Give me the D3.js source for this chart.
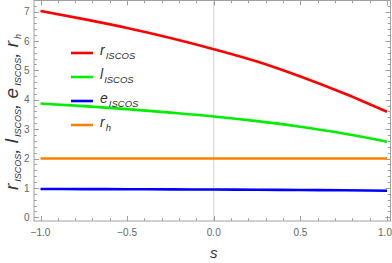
<!DOCTYPE html>
<html><head><meta charset="utf-8">
<script src="https://cdn.jsdelivr.net/npm/d3@7"></script>
<style>body{margin:0;background:#fff}svg{display:block}</style>
</head><body>
<svg id="c" width="392" height="263"></svg>
<script>
const sVals = [-1, -0.75, -0.5, -0.25, 0, 0.25, 0.5, 0.75, 1];
const rISCO = [7.02, 6.74, 6.44, 6.10, 5.72, 5.30, 4.79, 4.22, 3.59];
const lISCO = [3.87, 3.78, 3.68, 3.56, 3.43, 3.27, 3.08, 2.85, 2.57];
const eISCO = [0.962, 0.960, 0.956, 0.951, 0.945, 0.938, 0.930, 0.919, 0.905];
const rH = [2, 2, 2, 2, 2, 2, 2, 2, 2];
const xTicks = [-1, -0.5, 0, 0.5, 1];
const xTickLabels = ["\u22121.0", "\u22120.5", "0.0", "0.5", "1.0"];
const yTicks = [0, 1, 2, 3, 4, 5, 6, 7];
const seriesNames = ["r", "l", "e", "r"];
const seriesSubs = ["ISCOS", "ISCOS", "ISCOS", "h"];
const seriesColors = ["#ff0000", "#00ee00", "#0000ff", "#ff8000"];

const svg = d3.select("#c");
const L = 34, R = 390.5, T = 0.5, B = 221;
const x = d3.scaleLinear().domain([-1, 1]).range([40.5, 387]);
const y = d3.scaleLinear().domain([0, 7]).range([217.3, 11.5]);
const frameCol = "#a0a0a0";

// zero gridline
svg.append("line").attr("x1", x(0)).attr("x2", x(0)).attr("y1", T).attr("y2", B)
  .attr("stroke", "#d0d0d0").attr("stroke-width", 1);

// ticks
const g = svg.append("g").attr("stroke", frameCol).attr("stroke-width", 1);
const xMinor = d3.range(-10, 11).map(i => i / 10);
xMinor.forEach(v => {
  const major = xTicks.some(t => Math.abs(t - v) < 1e-9);
  const len = major ? 5 : 2.8;
  const px = Math.round(x(v)) + 0.5;
  g.append("line").attr("x1", px).attr("x2", px).attr("y1", B).attr("y2", B - len);
  g.append("line").attr("x1", px).attr("x2", px).attr("y1", T).attr("y2", T + len);
});
const yMinor = d3.range(0, 37).map(i => i / 5).filter(v => y(v) > T + 1);
yMinor.forEach(v => {
  const major = Math.abs(v - Math.round(v)) < 1e-9;
  const len = major ? 5 : 2.8;
  const py = Math.round(y(v)) + 0.5;
  g.append("line").attr("x1", L).attr("x2", L + len).attr("y1", py).attr("y2", py);
  g.append("line").attr("x1", R).attr("x2", R - len).attr("y1", py).attr("y2", py);
});

// series
const allSeries = [rISCO, lISCO, eISCO, rH];
const line = d3.line().x((d, i) => x(sVals[i])).y(d => y(d)).curve(d3.curveMonotoneX);
allSeries.forEach((s, k) => {
  svg.append("path").datum(s).attr("d", line).attr("fill", "none")
    .attr("stroke", seriesColors[k]).attr("stroke-width", 2.6);
});

// frame
svg.append("rect").attr("x", L).attr("y", T).attr("width", R - L).attr("height", B - T)
  .attr("fill", "none").attr("stroke", frameCol).attr("stroke-width", 1);

// tick labels
const font = "'Liberation Sans', Arial, sans-serif";
xTicks.forEach((v, i) => {
  const cx = i === xTicks.length - 1 ? x(v) - 2 : x(v);
  svg.append("text").attr("x", cx).attr("y", 235.5).attr("text-anchor", "middle")
    .attr("font-family", font).attr("font-size", 10).attr("fill", "#666").text(xTickLabels[i]);
});
yTicks.forEach(v => {
  svg.append("text").attr("x", 29.5).attr("y", y(v) + 3.6).attr("text-anchor", "end")
    .attr("font-family", font).attr("font-size", 10).attr("fill", "#666").text(v);
});

// x label
svg.append("text").attr("x", x(0)).attr("y", 258).attr("text-anchor", "middle")
  .attr("font-family", font).attr("font-style", "italic").attr("font-size", 15).attr("fill", "#333").text("s");

// y label
const yl = svg.append("text").attr("transform", "translate(18,112) rotate(-90)")
  .attr("text-anchor", "middle").attr("font-family", font).attr("font-style", "italic")
  .attr("font-size", 19).attr("fill", "#333");
seriesNames.forEach((n, i) => {
  yl.append("tspan").text(n);
  yl.append("tspan").attr("font-size", 9).attr("dx", 2).attr("dy", 3).text(seriesSubs[i]);
  if (i < seriesNames.length - 1) yl.append("tspan").attr("dy", -3).text(", ");
});

// legend
const legY = [53, 77, 101, 125];
seriesNames.forEach((n, i) => {
  svg.append("line").attr("x1", 71).attr("x2", 93).attr("y1", legY[i]).attr("y2", legY[i])
    .attr("stroke", seriesColors[i]).attr("stroke-width", 2.6);
  const t = svg.append("text").attr("x", 100).attr("y", legY[i] + 2)
    .attr("font-family", font).attr("font-style", "italic").attr("font-size", 14).attr("fill", "#333");
  t.append("tspan").text(n);
  t.append("tspan").attr("font-size", 9.5).attr("dx", 1).attr("dy", 4).text(seriesSubs[i]);
});
</script>
</body></html>
